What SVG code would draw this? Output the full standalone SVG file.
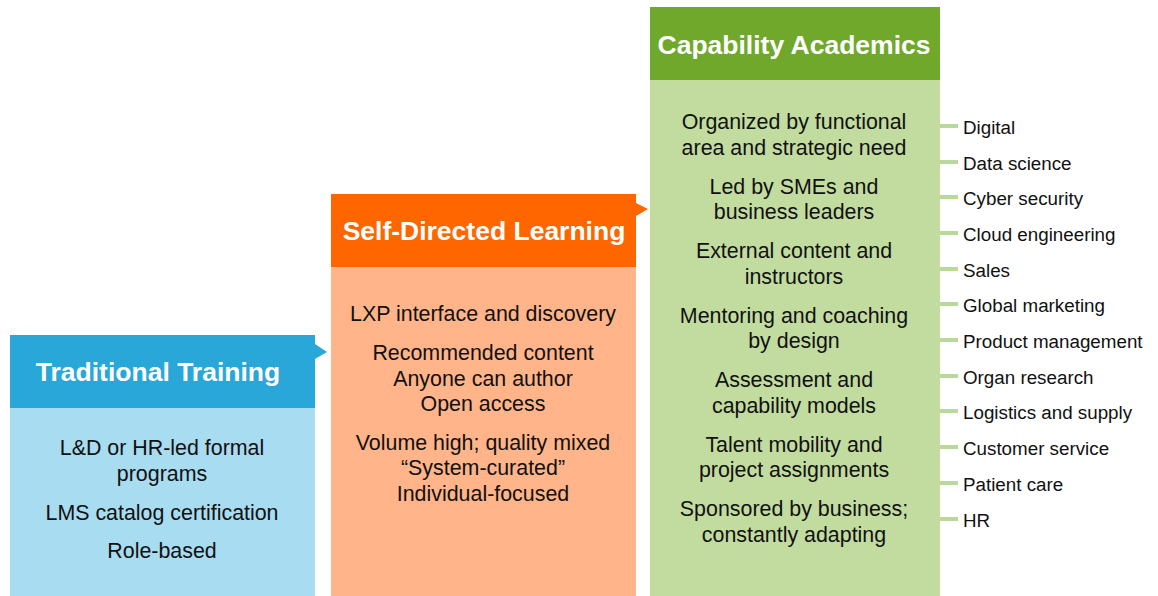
<svg xmlns="http://www.w3.org/2000/svg" width="1158" height="596" viewBox="0 0 1158 596">
<style>
.hdr{font-family:"Liberation Sans",Arial,sans-serif;font-weight:bold;font-size:26.5px;fill:#fff;text-anchor:middle}
.body{font-family:"Liberation Sans",Arial,sans-serif;font-size:21.4px;fill:#111;text-anchor:middle}
.item{font-family:"Liberation Sans",Arial,sans-serif;font-size:18.8px;fill:#111}
.tick{stroke:#b9d99a;stroke-width:4}
</style>
<rect width="1158" height="596" fill="#fff"/>
<g id="traditional">
<rect x="10" y="408" width="305" height="188" fill="#a8dcf0"/>
<rect x="10" y="335" width="305" height="73" fill="#2aa7d9"/>
<polygon points="315,344 327,352 315,359" fill="#2aa7d9"/>
<text class="hdr" x="158" y="381">Traditional Training</text>
<text class="body" x="162" y="455">L&amp;D or HR-led formal</text>
<text class="body" x="162" y="481">programs</text>
<text class="body" x="162" y="520">LMS catalog certification</text>
<text class="body" x="162" y="558">Role-based</text>
</g>
<g id="selfdirected">
<rect x="331" y="267" width="305" height="329" fill="#ffb48a"/>
<rect x="331" y="194" width="305" height="73" fill="#ff6600"/>
<polygon points="636,203 648,209 636,216" fill="#ff6600"/>
<text class="hdr" x="484" y="240">Self-Directed Learning</text>
<text class="body" x="483" y="321">LXP interface and discovery</text>
<text class="body" x="483" y="360">Recommended content</text>
<text class="body" x="483" y="386">Anyone can author</text>
<text class="body" x="483" y="411">Open access</text>
<text class="body" x="483" y="450">Volume high; quality mixed</text>
<text class="body" x="483" y="475">“System-curated”</text>
<text class="body" x="483" y="501">Individual-focused</text>
</g>
<g id="capability">
<rect x="650" y="80" width="290" height="516" fill="#c2dca0"/>
<rect x="650" y="7" width="290" height="73" fill="#6fa82a"/>
<text class="hdr" x="794" y="54">Capability Academics</text>
<text class="body" x="794" y="129">Organized by functional</text>
<text class="body" x="794" y="155">area and strategic need</text>
<text class="body" x="794" y="194">Led by SMEs and</text>
<text class="body" x="794" y="219">business leaders</text>
<text class="body" x="794" y="258">External content and</text>
<text class="body" x="794" y="284">instructors</text>
<text class="body" x="794" y="323">Mentoring and coaching</text>
<text class="body" x="794" y="348">by design</text>
<text class="body" x="794" y="387">Assessment and</text>
<text class="body" x="794" y="413">capability models</text>
<text class="body" x="794" y="452">Talent mobility and</text>
<text class="body" x="794" y="477">project assignments</text>
<text class="body" x="794" y="516">Sponsored by business;</text>
<text class="body" x="794" y="542">constantly adapting</text>
</g>
<g id="connectors">
<line class="tick" x1="940" y1="126" x2="958" y2="126"/>
<line class="tick" x1="940" y1="162" x2="958" y2="162"/>
<line class="tick" x1="940" y1="197" x2="958" y2="197"/>
<line class="tick" x1="940" y1="233" x2="958" y2="233"/>
<line class="tick" x1="940" y1="269" x2="958" y2="269"/>
<line class="tick" x1="940" y1="304" x2="958" y2="304"/>
<line class="tick" x1="940" y1="340" x2="958" y2="340"/>
<line class="tick" x1="940" y1="376" x2="958" y2="376"/>
<line class="tick" x1="940" y1="411" x2="958" y2="411"/>
<line class="tick" x1="940" y1="447" x2="958" y2="447"/>
<line class="tick" x1="940" y1="483" x2="958" y2="483"/>
<line class="tick" x1="940" y1="519" x2="958" y2="519"/>
</g>
<g id="list">
<text class="item" x="963" y="134">Digital</text>
<text class="item" x="963" y="170">Data science</text>
<text class="item" x="963" y="205">Cyber security</text>
<text class="item" x="963" y="241">Cloud engineering</text>
<text class="item" x="963" y="277">Sales</text>
<text class="item" x="963" y="312">Global marketing</text>
<text class="item" x="963" y="348">Product management</text>
<text class="item" x="963" y="384">Organ research</text>
<text class="item" x="963" y="419">Logistics and supply</text>
<text class="item" x="963" y="455">Customer service</text>
<text class="item" x="963" y="491">Patient care</text>
<text class="item" x="963" y="527">HR</text>
</g>
</svg>
